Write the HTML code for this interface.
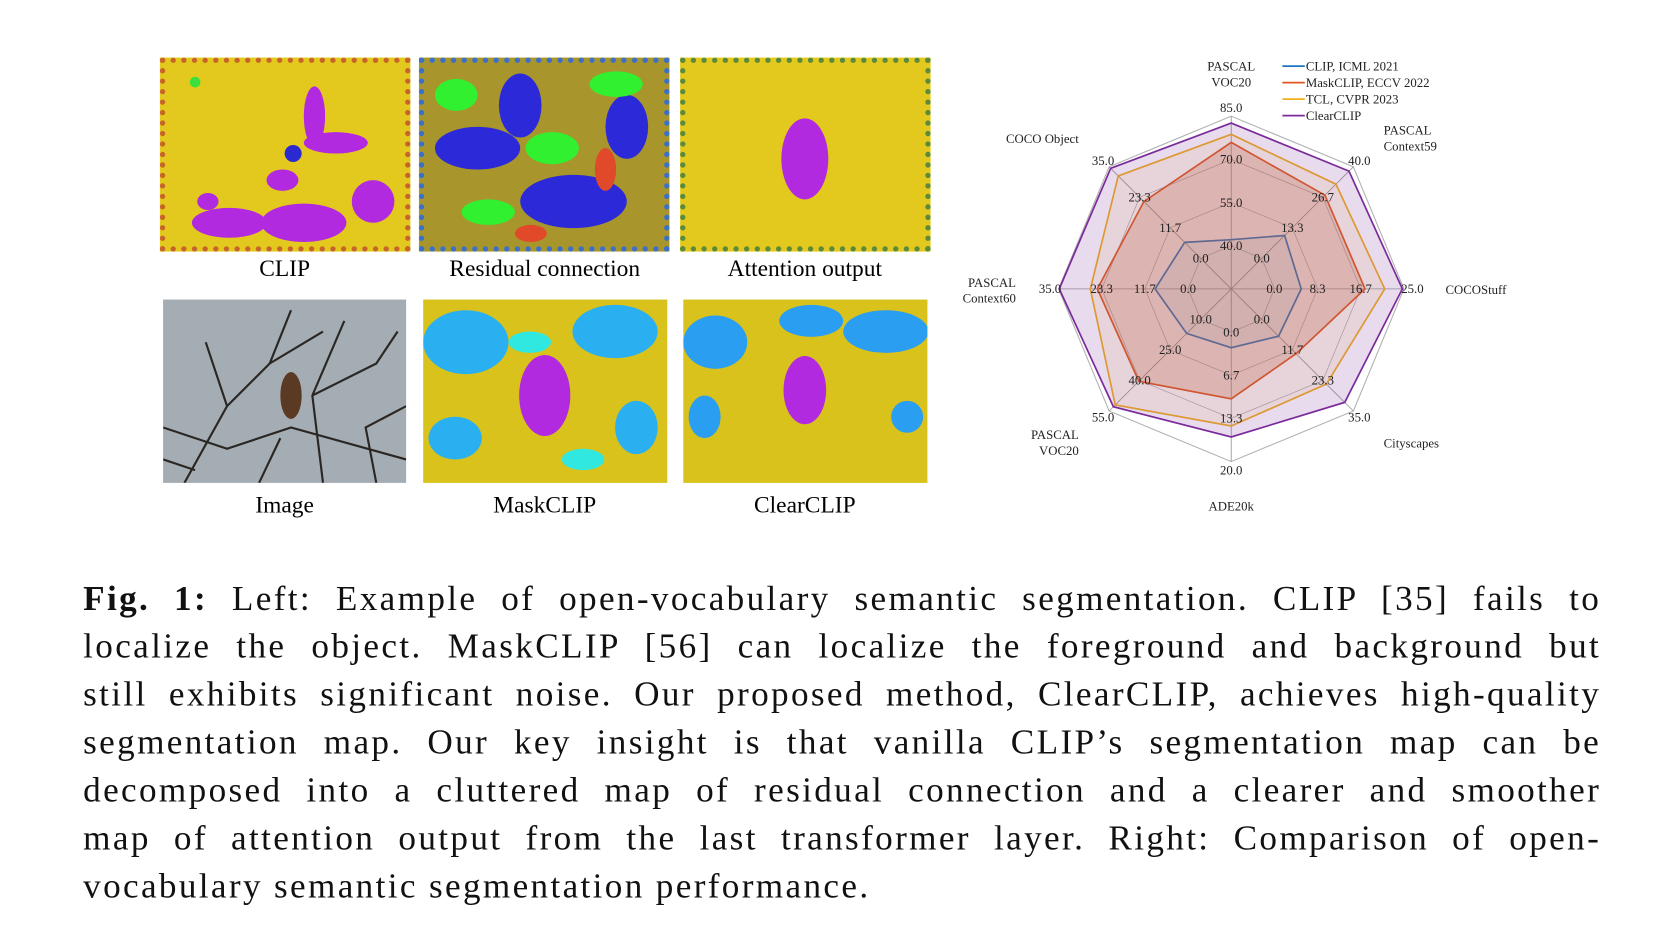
<!DOCTYPE html>
<html><head><meta charset="utf-8">
<style>
html,body{margin:0;padding:0;background:#fff;}
body{width:1663px;height:945px;overflow:hidden;position:relative;}
#wrap{position:absolute;left:0;top:0;width:1560px;height:887px;transform:scale(1.066);transform-origin:0 0;font-family:"Liberation Serif",serif;}
.pic{position:absolute;overflow:hidden;box-sizing:border-box;}
.lbl{position:absolute;font-size:22px;text-align:center;width:260px;}
#caption{position:absolute;left:78px;top:540px;width:1424px;font-size:33px;line-height:45px;color:#111;letter-spacing:2.2px;}
#caption div{text-align:justify;text-align-last:justify;white-space:nowrap;}
#caption div.last{text-align-last:left;}
</style></head><body>
<div id="wrap">

<div class="pic" style="left:150px;top:54px;width:235px;height:182px;border:5px dotted #c8642a;background:#e3c91e;">
<svg width="225" height="172"><g fill="#b22ae0"><ellipse cx="140" cy="50" rx="10" ry="28"/><ellipse cx="160" cy="75" rx="30" ry="10"/><ellipse cx="60" cy="150" rx="35" ry="14"/><ellipse cx="130" cy="150" rx="40" ry="18"/><ellipse cx="195" cy="130" rx="20" ry="20"/><ellipse cx="110" cy="110" rx="15" ry="10"/><ellipse cx="40" cy="130" rx="10" ry="8"/></g><circle cx="28" cy="18" r="5" fill="#3ce03c"/><ellipse cx="120" cy="85" rx="8" ry="8" fill="#2a2ad0"/></svg></div>
<div class="pic" style="left:393px;top:54px;width:235px;height:182px;border:5px dotted #3a70c8;background:#a8962c;">
<svg width="225" height="172"><g fill="#2c2ad8"><ellipse cx="50" cy="80" rx="40" ry="20"/><ellipse cx="140" cy="130" rx="50" ry="25"/><ellipse cx="90" cy="40" rx="20" ry="30"/><ellipse cx="190" cy="60" rx="20" ry="30"/></g><g fill="#30f030"><ellipse cx="30" cy="30" rx="20" ry="15"/><ellipse cx="120" cy="80" rx="25" ry="15"/><ellipse cx="180" cy="20" rx="25" ry="12"/><ellipse cx="60" cy="140" rx="25" ry="12"/></g><g fill="#e04a2a"><ellipse cx="170" cy="100" rx="10" ry="20"/><ellipse cx="100" cy="160" rx="15" ry="8"/></g></svg></div>
<div class="pic" style="left:638px;top:54px;width:235px;height:182px;border:5px dotted #5a8a3a;background:#e3c91e;">
<svg width="225" height="172"><ellipse cx="112" cy="90" rx="22" ry="38" fill="#b22ae0"/></svg></div>
<div class="lbl" style="left:137px;top:239px;">CLIP</div>
<div class="lbl" style="left:381px;top:239px;">Residual connection</div>
<div class="lbl" style="left:625px;top:239px;">Attention output</div>

<div class="pic" style="left:153px;top:281px;width:228px;height:172px;background:#a4acb4;">
<svg width="228" height="172" stroke="#2a2622" fill="none" stroke-width="2"><path d="M20 172 L60 100 L40 40 M60 100 L100 60 L120 10 M100 60 L150 30 M150 172 L140 90 L170 20 M140 90 L200 60 L220 30 M0 120 L60 140 L120 120 L228 150 M90 172 L110 130 M30 160 L0 150 M200 172 L190 120 L228 100"/><ellipse cx="120" cy="90" rx="10" ry="22" fill="#5a3a22" stroke="none"/></svg></div>
<div class="pic" style="left:397px;top:281px;width:229px;height:172px;background:#d9c21c;">
<svg width="229" height="172"><g fill="#2ab0f0"><ellipse cx="40" cy="40" rx="40" ry="30"/><ellipse cx="180" cy="30" rx="40" ry="25"/><ellipse cx="30" cy="130" rx="25" ry="20"/><ellipse cx="200" cy="120" rx="20" ry="25"/></g><g fill="#30e8e0"><ellipse cx="100" cy="40" rx="20" ry="10"/><ellipse cx="150" cy="150" rx="20" ry="10"/></g><ellipse cx="114" cy="90" rx="24" ry="38" fill="#b22ae0"/></svg></div>
<div class="pic" style="left:641px;top:281px;width:229px;height:172px;background:#d9c21c;">
<svg width="229" height="172"><g fill="#2a9ef0"><ellipse cx="30" cy="40" rx="30" ry="25"/><ellipse cx="120" cy="20" rx="30" ry="15"/><ellipse cx="190" cy="30" rx="40" ry="20"/><ellipse cx="20" cy="110" rx="15" ry="20"/><ellipse cx="210" cy="110" rx="15" ry="15"/></g><ellipse cx="114" cy="85" rx="20" ry="32" fill="#b22ae0"/></svg></div>
<div class="lbl" style="left:137px;top:461px;">Image</div>
<div class="lbl" style="left:381px;top:461px;">MaskCLIP</div>
<div class="lbl" style="left:625px;top:461px;">ClearCLIP</div>

<svg id="radar" style="position:absolute;left:0;top:0;" width="1560" height="520" font-family="Liberation Serif, serif" font-size="12"></svg>

<div id="caption">
<div><b>Fig. 1:</b> Left: Example of open-vocabulary semantic segmentation. CLIP [35] fails to</div>
<div>localize the object. MaskCLIP [56] can localize the foreground and background but</div>
<div>still exhibits significant noise. Our proposed method, ClearCLIP, achieves high-quality</div>
<div>segmentation map. Our key insight is that vanilla CLIP’s segmentation map can be</div>
<div>decomposed into a cluttered map of residual connection and a clearer and smoother</div>
<div>map of attention output from the last transformer layer. Right: Comparison of open-</div>
<div class="last">vocabulary semantic segmentation performance.</div>
</div>
</div>
<script>
const axisNames=[["PASCAL","VOC20"],["PASCAL","Context59"],["COCOStuff"],["Cityscapes"],["ADE20k"],["PASCAL","VOC20"],["PASCAL","Context60"],["COCO Object"]];
const axisTicks=[["40.0","55.0","70.0","85.0"],["0.0","13.3","26.7","40.0"],["0.0","8.3","16.7","25.0"],["0.0","11.7","23.3","35.0"],["0.0","6.7","13.3","20.0"],["10.0","25.0","40.0","55.0"],["0.0","11.7","23.3","35.0"],["0.0","11.7","23.3","35.0"]];
const axisMin=[25,-13.3,-8.3,-11.7,-6.7,-5,-11.7,-11.7];
const axisMax=[85,40,25,35,20,55,35,35];
const seriesNames=["CLIP, ICML 2021","MaskCLIP, ECCV 2022","TCL, CVPR 2023","ClearCLIP"];
const seriesColors=["#1f77c4","#e0561e","#f0b020","#7b2a9a"];
const seriesFill=["rgba(31,119,196,0.08)","rgba(200,90,40,0.25)","rgba(240,176,32,0.10)","rgba(123,42,154,0.17)"];
const clipVals=[42.1,10.0,5.2,6.4,2.4,16.9,8.9,6.1];
const maskclipVals=[75.9,27.6,17.5,13.1,10.3,40.4,24.5,21.7];
const tclVals=[78.7,32.4,21.3,24.7,14.5,52.0,26.4,31.5];
const clearclipVals=[82.6,38.1,24.7,31.7,16.2,52.9,34.8,34.4];
const allVals=[clipVals,maskclipVals,tclVals,clearclipVals];

const svg=document.getElementById('radar');
const NS='http://www.w3.org/2000/svg';
const cx=1155,cy=271,R=162;
function ang(i){return -Math.PI/2+i*Math.PI/4;}
function pt(i,r){return [cx+r*Math.cos(ang(i)),cy+r*Math.sin(ang(i))];}
function rScale(i,v){return R*(v-axisMin[i])/(axisMax[i]-axisMin[i]);}
function mk(tag,attrs){const e=document.createElementNS(NS,tag);for(const k in attrs)e.setAttribute(k,attrs[k]);svg.appendChild(e);return e;}
for(let k=1;k<=4;k++){
  const pts=[];for(let i=0;i<8;i++)pts.push(pt(i,R*k/4).join(','));
  const g=mk('polygon',{points:pts.join(' '),fill:'none',stroke:'#b0b0b0','stroke-width':k==4?1:0.7});
  
  
}
for(let i=0;i<8;i++){const p=pt(i,R);const l=mk('line',{x1:cx,y1:cy,x2:p[0],y2:p[1],stroke:'#999','stroke-width':0.8});
  
  }
allVals.forEach((vals,s)=>{
  const pts=vals.map((v,i)=>pt(i,rScale(i,v)).join(','));
  const p=mk('polygon',{points:pts.join(' '),fill:seriesFill[s],stroke:seriesColors[s],'stroke-width':1.6});
  
  
});
for(let i=0;i<8;i++){for(let k=0;k<4;k++){
  const p=pt(i,R*(k+1)/4+(k==3?8:0));
  const t=mk('text',{x:p[0],y:p[1]+4,'text-anchor':'middle',fill:'#222'});
  t.textContent=axisTicks[i][k];
  
  
}}
const namePos=[[1155,66,'middle'],[1298,126,'start'],[1356,276,'start'],[1298,420,'start'],[1155,479,'middle'],[1012,412,'end'],[953,269,'end'],[1012,134,'end']];
axisNames.forEach((n,i)=>{n.forEach((line,j)=>{
  const t=mk('text',{x:namePos[i][0],y:namePos[i][1]+j*15,'text-anchor':namePos[i][2],fill:'#222'});
  t.textContent=line;
  
  
});});
seriesNames.forEach((n,s)=>{
  const y=62+s*15.5;
  const l=mk('line',{x1:1203,y1:y,x2:1224,y2:y,stroke:seriesColors[s],'stroke-width':1.6});
  
  
  const t=mk('text',{x:1225,y:y+4,fill:'#222'});
  t.textContent=n;
  
  
});
</script>
</body></html>
